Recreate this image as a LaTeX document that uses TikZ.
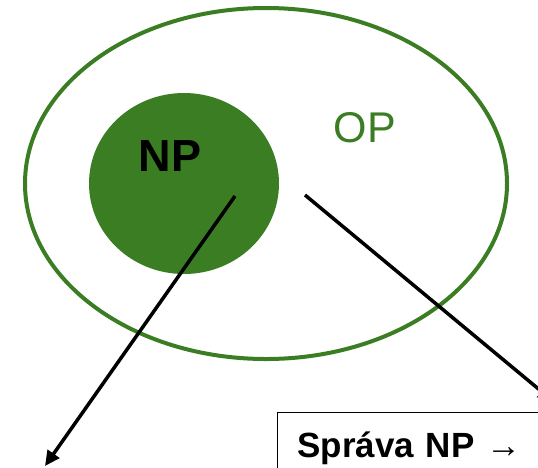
\documentclass[tikz,border=0pt]{standalone}
\usepackage{fontspec}
\setmainfont{Liberation Sans}
\usepackage{xcolor}
\usepackage{tikz}
\usetikzlibrary{shapes, arrows.meta, positioning, calc}
\definecolor{opgreen}{RGB}{59,125,35}

\begin{document}
\begin{tikzpicture}[x=1pt, y=-1pt,
    set/.style={draw=opgreen, line width=4pt, ellipse, inner sep=0pt},
    core/.style={fill=opgreen, ellipse, inner sep=0pt},
    pointer/.style={-{Triangle[length=15pt,width=14pt]}, line width=3.5pt, black}]
      \clip (0,0) rectangle (538,467);

      \node[set, minimum width=482pt, minimum height=351pt] at (266,183.5) (OP) {};
      \node[core, minimum width=190pt, minimum height=181pt] at (184,183.5) (NP) {};

      \node[text=opgreen, font=\fontsize{43}{43}\selectfont] at (365,128) (OPlabel) {OP};
      \node[font=\fontsize{45}{45}\selectfont\bfseries] at (170,156) (NPlabel) {NP};

      \node[draw, line width=1pt, anchor=north west, inner xsep=20pt, inner ysep=19pt,
            text width=280pt, font=\fontsize{35}{35}\selectfont\bfseries]
            at (277,412) (sprava) {Správa NP \textmd{→}};

      \coordinate (fromNP) at (235,196);
      \coordinate (fromOP) at (305,195);
      \coordinate (toLeft) at (45,466);
      \coordinate (toRight) at (553,401);

      \draw[pointer] (fromNP) -- (toLeft);
      \draw[pointer] (fromOP) -- (toRight);
    \end{tikzpicture}
\end{document}
